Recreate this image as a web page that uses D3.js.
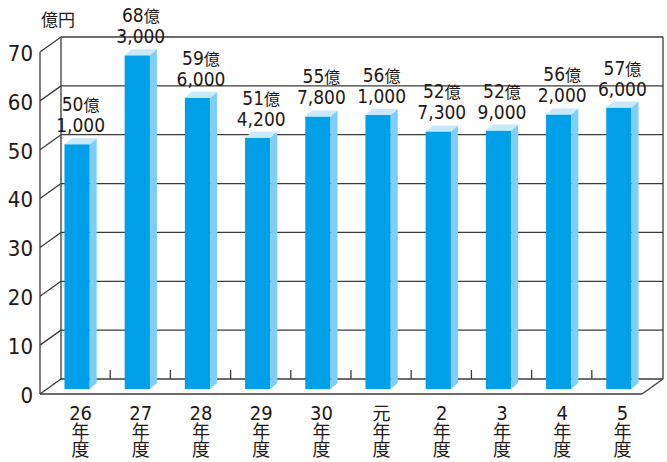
<!DOCTYPE html>
<html lang="ja">
<head>
<meta charset="UTF-8">
<title>億円</title>
<script src="https://d3js.org/d3.v7.min.js"></script>
<style>
  body { margin: 0; background: #fff; }
  text { fill: #231815; font-family: "Liberation Sans Narrow", "DejaVu Sans Condensed", "Noto Sans CJK JP", sans-serif; }
</style>
</head>
<body>
<svg width="667" height="462"></svg>
<script>
    // data (億円)
    var categories = ["26", "27", "28", "29", "30", "元", "2", "3", "4", "5"];
    var values = [50.1, 68.3, 59.6, 51.42, 55.78, 56.1, 52.73, 52.9, 56.2, 57.6];
    var labelTop = ["50", "68", "59", "51", "55", "56", "52", "52", "56", "57"];
    var labelBottom = ["1,000", "3,000", "6,000", "4,200", "7,800", "1,000", "7,300", "9,000", "2,000", "6,000"];
    var yTicks = [0, 10, 20, 30, 40, 50, 60, 70];

    var svg = d3.select("svg");
    var lineColor = "#3e3a39";

    // front plane scales, depth offsets for the back wall and bars
    var x = d3.scaleBand().domain(categories).range([40, 642])
        .paddingInner(0.58).paddingOuter(0.29);
    var y = d3.scaleLinear().domain([0, 70]).range([394, 52]);
    var back = {dx: 21, dy: -15};
    var plane = {dx: 7, dy: -5};
    var depth = {dx: 7, dy: -6};

    var g = svg.append("g")
        .attr("stroke", lineColor)
        .attr("stroke-width", 1.3)
        .attr("fill", "none");

    // back wall grid lines
    g.selectAll(".grid")
        .data(yTicks)
        .enter().append("line")
        .attr("x1", 40 + back.dx)
        .attr("x2", 642 + back.dx)
        .attr("y1", function (d) { return y(d) + back.dy; })
        .attr("y2", function (d) { return y(d) + back.dy; });

    // side wall diagonals
    g.selectAll(".diag")
        .data(yTicks)
        .enter().append("line")
        .attr("x1", 40)
        .attr("x2", 40 + back.dx)
        .attr("y1", function (d) { return y(d); })
        .attr("y2", function (d) { return y(d) + back.dy; });

    // frame
    g.append("line").attr("x1", 40).attr("x2", 40).attr("y1", y(70)).attr("y2", y(0));
    g.append("line").attr("x1", 40 + back.dx).attr("x2", 40 + back.dx)
        .attr("y1", y(70) + back.dy).attr("y2", y(0) + back.dy);
    g.append("line").attr("x1", 642 + back.dx).attr("x2", 642 + back.dx)
        .attr("y1", y(70) + back.dy).attr("y2", y(0) + back.dy);
    g.append("line").attr("x1", 40).attr("x2", 642).attr("y1", y(0)).attr("y2", y(0));
    g.append("line").attr("x1", 642).attr("x2", 642 + back.dx)
        .attr("y1", y(0)).attr("y2", y(0) + back.dy);

    // small ticks on the back floor between categories
    g.selectAll(".tick")
        .data(categories.slice(1))
        .enter().append("line")
        .attr("x1", function (d) { return x(d) - x.step() * 0.29 + 10; })
        .attr("x2", function (d) { return x(d) - x.step() * 0.29 + 10; })
        .attr("y1", y(0) + back.dy)
        .attr("y2", y(0) + back.dy - 9);

    // bars
    var bars = svg.append("g")
        .selectAll("g")
        .data(categories)
        .enter().append("g");

    function bx(d) { return x(d) + plane.dx; }
    function by(i) { return y(values[i]) + plane.dy; }
    var y0 = y(0) + plane.dy;
    var bw = x.bandwidth();

    bars.append("rect")
        .attr("x", bx)
        .attr("y", function (d, i) { return by(i); })
        .attr("width", bw)
        .attr("height", function (d, i) { return y0 - by(i); })
        .attr("fill", "#00a0e9");

    bars.append("polygon")
        .attr("fill", "#7fcff4")
        .attr("points", function (d, i) {
            var l = bx(d) + bw, t = by(i);
            return [[l, t], [l + depth.dx, t + depth.dy], [l + depth.dx, y0 + depth.dy], [l, y0]].join(" ");
        });

    bars.append("polygon")
        .attr("fill", "#c7e9fa")
        .attr("points", function (d, i) {
            var l = bx(d), t = by(i);
            return [[l, t], [l + depth.dx, t + depth.dy], [l + bw + depth.dx, t + depth.dy], [l + bw, t]].join(" ");
        });

    // value labels
    var vl = bars.append("text")
        .attr("text-anchor", "middle")
        .attr("font-size", 19);
    vl.append("tspan")
        .attr("x", function (d) { return bx(d) + (bw + depth.dx) / 2; })
        .attr("y", function (d, i) { return by(i) - 33; })
        .text(function (d, i) { return labelTop[i]; })
        .append("tspan")
        .attr("font-size", 16)
        .text("億");
    vl.append("tspan")
        .attr("x", function (d) { return bx(d) + (bw + depth.dx) / 2; })
        .attr("y", function (d, i) { return by(i) - 12; })
        .text(function (d, i) { return labelBottom[i]; });

    // category labels
    var cl = bars.append("text")
        .attr("text-anchor", "middle")
        .attr("font-size", 20);
    cl.append("tspan")
        .attr("x", function (d) { return bx(d) + (bw + depth.dx) / 2; })
        .attr("y", 420)
        .attr("font-size", function (d) { return d === "元" ? 18 : 20; })
        .text(function (d) { return d; });
    cl.append("tspan")
        .attr("x", function (d) { return bx(d) + (bw + depth.dx) / 2; })
        .attr("y", 438)
        .attr("font-size", 18)
        .text("年");
    cl.append("tspan")
        .attr("x", function (d) { return bx(d) + (bw + depth.dx) / 2; })
        .attr("y", 456)
        .attr("font-size", 18)
        .text("度");

    // y axis labels
    svg.append("g")
        .selectAll("text")
        .data(yTicks)
        .enter().append("text")
        .attr("x", 33)
        .attr("y", function (d) { return y(d) + 1; })
        .attr("dy", "0.36em")
        .attr("text-anchor", "end")
        .attr("font-size", 22)
        .text(function (d) { return d; });

    svg.append("text")
        .attr("x", 58)
        .attr("y", 26)
        .attr("text-anchor", "middle")
        .attr("font-size", 17)
        .text("億円");
</script>
</body>
</html>
